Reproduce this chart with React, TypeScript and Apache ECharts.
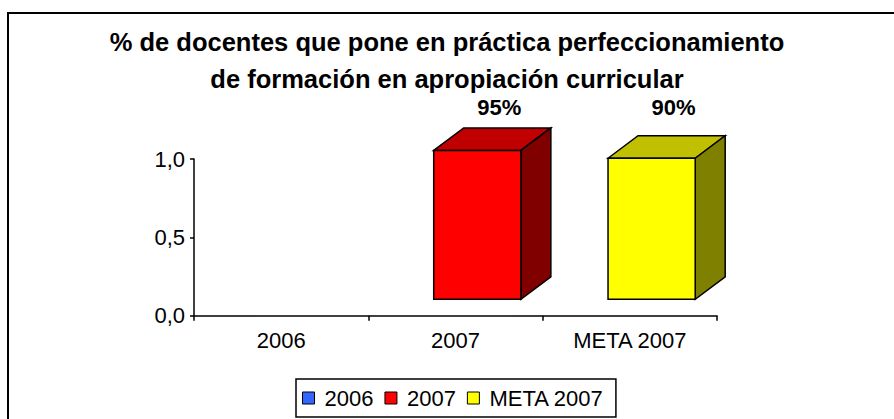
import React, { useEffect, useRef } from "react";
import * as echarts from "echarts";

const categories = ["2006", "2007", "META 2007"];
const seriesNames = ["2006", "2007", "META 2007"];
const values: (number | null)[] = [null, 0.95, 0.9];
const valueLabels = ["", "95%", "90%"];
const frontColors = ["#3366FF", "#FF0000", "#FFFF00"];
const topColors = ["#2650C0", "#C00000", "#C0C000"];
const sideColors = ["#1A3380", "#800000", "#808000"];
const yTicks = { min: 0, max: 1, interval: 0.5 };
const titleText = "% de docentes que pone en práctica perfeccionamiento\nde formación en apropiación curricular";

const FONT = "'Liberation Sans', Arial, sans-serif";

export default function App() {
  const ref = useRef<HTMLDivElement>(null);
  useEffect(() => {
    document.body.style.margin = "0";
    if (!ref.current) return;
    const chart = echarts.init(ref.current, null, { renderer: "svg" });
    const series = seriesNames.map((name, i) => ({
      type: "custom",
      name,
      itemStyle: { color: frontColors[i], borderColor: "#000", borderWidth: 1 },
      data: [[i, values[i]]],
      renderItem: (params: any, api: any) => {
        const v = api.value(1);
        if (v == null || isNaN(v)) return null;
        const idx = api.value(0);
        const [cx, y0] = api.coord([idx, 0]);
        const yTop = api.coord([idx, v])[1];
        const yMax = api.coord([idx, yTicks.max])[1];
        const bw = api.size([1, 0])[0];
        const x0 = cx - bw * 0.125;
        const x1 = cx + bw * 0.375;
        const dx = bw * 0.172;
        const dy = 22.5;
        const lift = 16.4;
        const fb = y0 - lift;
        const ft = yTop - lift;
        const st = { stroke: "#000", lineWidth: 1.5 };
        return {
          type: "group",
          children: [
            {
              type: "polygon",
              shape: { points: [[x0, ft], [x0 + dx, ft - dy], [x1 + dx, ft - dy], [x1, ft]] },
              style: { fill: topColors[i], ...st },
            },
            {
              type: "polygon",
              shape: { points: [[x1, ft], [x1 + dx, ft - dy], [x1 + dx, fb - dy], [x1, fb]] },
              style: { fill: sideColors[i], ...st },
            },
            {
              type: "rect",
              shape: { x: x0, y: ft, width: x1 - x0, height: fb - ft },
              style: { fill: frontColors[i], ...st },
            },
            {
              type: "text",
              style: {
                text: valueLabels[i],
                x: (x0 + x1) / 2 + dx / 2 + 7,
                y: yMax - 52,
                align: "center",
                verticalAlign: "middle",
                font: `bold 22px ${FONT}`,
                fill: "#000",
              },
            },
          ],
        };
      },
    }));
    chart.setOption({
      animation: false,
      backgroundColor: "#fff",
      title: {
        text: titleText,
        left: "center",
        top: 18,
        textStyle: { fontFamily: FONT, fontSize: 25.5, fontWeight: "bold", lineHeight: 37, color: "#000" },
      },
      graphic: [
        {
          type: "rect",
          shape: { x: 8, y: 13, width: 900, height: 420 },
          style: { fill: "none", stroke: "#000", lineWidth: 2 },
          silent: true,
        },
      ],
      legend: {
        data: seriesNames,
        left: 296,
        top: 379,
        orient: "horizontal",
        icon: "rect",
        itemWidth: 12,
        itemHeight: 12,
        itemGap: 11,
        padding: [8, 12, 8, 6],
        borderColor: "#000",
        borderWidth: 1.5,
        itemStyle: { borderColor: "#000", borderWidth: 1 },
        textStyle: { fontFamily: FONT, fontSize: 22, color: "#000", padding: [0, 0, 0, 5] },
      },
      grid: { left: 194, right: 177, top: 159, bottom: 103.3, containLabel: false },
      xAxis: {
        type: "category",
        data: categories,
        axisLine: { lineStyle: { color: "#000", width: 1.5 } },
        axisTick: { show: true, length: 5, lineStyle: { color: "#000", width: 1.5 } },
        axisLabel: { fontFamily: FONT, fontSize: 22, color: "#000", margin: 14 },
      },
      yAxis: {
        type: "value",
        min: yTicks.min,
        max: yTicks.max,
        interval: yTicks.interval,
        splitLine: { show: false },
        axisLine: { show: true, lineStyle: { color: "#000", width: 1.5 } },
        axisTick: { show: true, length: 4, lineStyle: { color: "#000", width: 1.5 } },
        axisLabel: {
          fontFamily: FONT,
          fontSize: 22,
          color: "#000",
          margin: 9,
          formatter: (v: number) => v.toFixed(1).replace(".", ","),
        },
      },
      series,
    });
    return () => chart.dispose();
  }, []);
  return <div ref={ref} style={{ width: 894, height: 419 }} />;
}
